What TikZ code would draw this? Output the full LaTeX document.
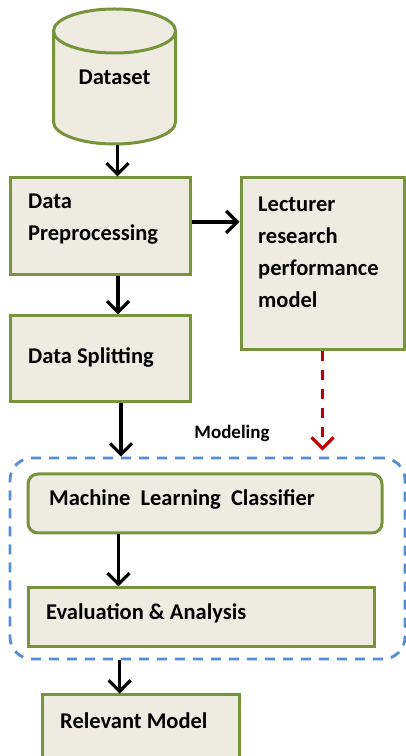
\documentclass[tikz,border=0pt]{standalone}
\usepackage{fontspec}
\setmainfont{Carlito}
\usetikzlibrary{arrows.meta,calc}
\definecolor{boxfill}{HTML}{EEECE1}
\definecolor{boxline}{HTML}{77933C}
\definecolor{modblue}{HTML}{558ED5}
\definecolor{darkred}{HTML}{C00000}
\begin{document}
\begin{tikzpicture}[x=1pt,y=1pt,
  box/.style={draw=boxline,fill=boxfill,line width=3pt,minimum width=#1,inner sep=0pt},
  txt/.style={font=\fontsize{22.5}{32}\selectfont\bfseries,anchor=west,inner sep=0pt,align=left},
  arr/.style={line width=3.2pt,-{Straight Barb[length=11pt,width=22pt]}},
  redarr/.style={draw=darkred,line width=3.2pt,dash pattern=on 10pt off 9pt,-{Straight Barb[length=11pt,width=22pt]}}
]
\useasboundingbox (0,0) rectangle (406,756);
% cylinder
\fill[boxfill] (53.5,725) -- (53.5,634) arc[start angle=180,end angle=360,x radius=61,y radius=22] -- (175.5,725) arc[start angle=0,end angle=180,x radius=61,y radius=22] -- cycle;
\draw[boxline,line width=3pt] (53.5,725) -- (53.5,634) arc[start angle=180,end angle=360,x radius=61,y radius=22] -- (175.5,725);
\draw[boxline,line width=3pt] (114.5,725) ellipse[x radius=61,y radius=22];
\node[minimum width=123pt,minimum height=136pt,inner sep=0pt] (ds) at (114.5,679) {};
\node[font=\fontsize{22.5}{32}\selectfont\bfseries,inner sep=0pt] (dst) at (114.5,679) {Dataset};
% boxes
\node[box=180pt,minimum height=97pt] (dp) at (100,529.5) {};
\node[box=163pt,minimum height=172pt] (lr) at (322.5,492) {};
\node[box=180pt,minimum height=86pt] (dsp) at (100,397) {};
\node[draw=modblue,line width=2.8pt,dash pattern=on 10pt off 8pt,rounded corners=22pt,minimum width=395pt,minimum height=201pt,inner sep=0pt] (mod) at (207.5,197.5) {};
\node[box=354pt,minimum height=59pt,rounded corners=10pt] (mlc) at (205,252.5) {};
\node[box=346pt,minimum height=59pt] (ea) at (201,138.5) {};
\node[box=197pt,minimum height=63pt] (rm) at (140.5,29.5) {};
% texts
\node[txt] (dpt) at (28,536.5) {Data\\Preprocessing};
\node[txt] (lrt) at (258,504) {Lecturer\\research\\performance\\model};
\node[txt] (dspt) at (28,399) {Data Splitting};
\node[font=\fontsize{19}{22}\selectfont\bfseries,inner sep=0pt] (modt) at (232,323) {Modeling};
\node[txt] (mlct) at (49,257) {Machine\ \ Learning\ \ Classifier};
\node[txt] (eat) at (46,143) {Evaluation \& Analysis};
\node[txt] (rmt) at (60,35) {Relevant Model};
% arrows
\draw[arr] ([xshift=3pt]ds.south) -- ([xshift=3pt]ds.south |- dp.north);
\draw[arr] ([xshift=18pt]dp.south) -- ([xshift=18pt]dp.south |- dsp.north);
\draw[arr] ([yshift=4.5pt]dp.east) -- ([yshift=4.5pt]dp.east -| lr.west);
\draw[arr] ([xshift=21pt]dsp.south) -- ([xshift=21pt]dsp.south |- mod.north);
\draw[redarr] (lr.south) -- ([yshift=6pt]lr.south |- mod.north);
\draw[arr] ([xshift=92pt]mlc.south west) -- ([xshift=92pt]mlc.south west |- ea.north);
\draw[arr] ([xshift=111pt]mod.south west) -- ([xshift=111pt]mod.south west |- rm.north);
\end{tikzpicture}
\end{document}
